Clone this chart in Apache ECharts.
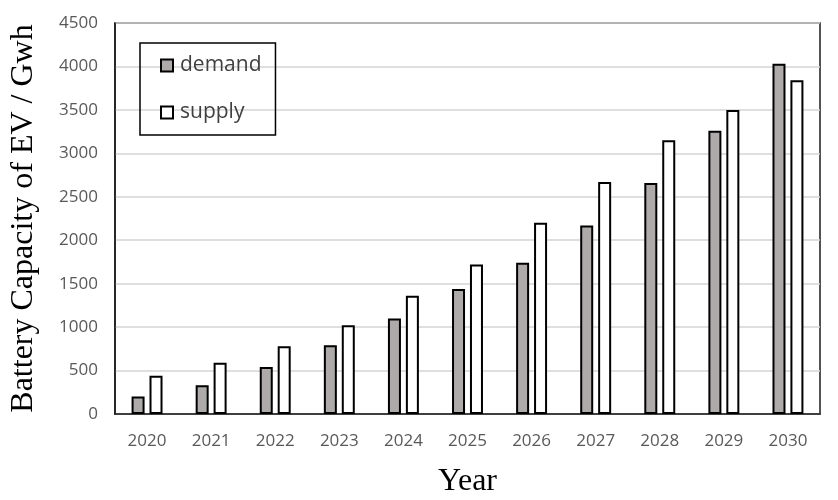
<!DOCTYPE html>
<html><head><meta charset="utf-8">
<script src="https://cdn.jsdelivr.net/npm/echarts@6/dist/echarts.min.js"></script>
<style>html,body{margin:0;padding:0;background:#fff}#c{width:838px;height:500px}</style>
</head><body><div id="c"></div>
<script>
var years = ['2020','2021','2022','2023','2024','2025','2026','2027','2028','2029','2030'];
var demand = [200, 330, 540, 790, 1100, 1440, 1740, 2170, 2660, 3260, 4030];
var supply = [440, 590, 780, 1020, 1360, 1720, 2200, 2670, 3150, 3500, 3840];
var yTicks = [0, 500, 1000, 1500, 2000, 2500, 3000, 3500, 4000, 4500];

var chart = echarts.init(document.getElementById('c'));
chart.setOption({
  animation: false,
  backgroundColor: '#fff',
  grid: { left: 115, right: 18, top: 23, bottom: 86, containLabel: false, outerBoundsMode: 'none',
    show: true, borderColor: '#1a1a1a', borderWidth: 1.5, backgroundColor: 'transparent' },
  legend: {
    left: 140, top: 43, orient: 'vertical', itemGap: 26,
    padding: [12, 14, 12, 20],
    borderColor: '#000', borderWidth: 1.5,
    itemWidth: 12, itemHeight: 12,
    icon: 'rect',
    textStyle: { fontFamily: 'Open Sans', fontSize: 21, color: '#404040', padding: [0, 0, 0, 2] },
    data: ['demand', 'supply']
  },
  xAxis: {
    type: 'category', data: years,
    axisLine: { show: true, lineStyle: { color: '#1a1a1a', width: 1.5 } },
    axisTick: { show: false },
    axisLabel: { fontFamily: 'Open Sans', fontSize: 17, color: '#595959', margin: 19 },
    name: 'Year', nameLocation: 'middle', nameGap: 52, nameMoveOverlap: false,
    nameTextStyle: { fontFamily: 'Liberation Serif', fontSize: 32, color: '#000' }
  },
  yAxis: {
    type: 'value', min: 0, max: 4500, interval: 500,
    axisLine: { show: true, lineStyle: { color: '#1a1a1a', width: 1.5 } },
    axisTick: { show: false },
    splitLine: { lineStyle: { color: '#d4d4d4', width: 1.5 } },
    axisLabel: { fontFamily: 'Open Sans', fontSize: 17, color: '#595959', margin: 17,
      formatter: function (v) { return yTicks.indexOf(v) >= 0 ? String(v) : ''; } },
    name: 'Battery Capacity of EV / Gwh', nameLocation: 'middle', nameGap: 75, nameMoveOverlap: false,
    nameTextStyle: { fontFamily: 'Liberation Serif', fontSize: 32, color: '#000' }
  },
  series: [
    { name: 'demand', type: 'bar', data: demand, barWidth: 13, barGap: '38%',
      itemStyle: { color: '#aeaaaa', borderColor: '#000', borderWidth: 2 } },
    { name: 'supply', type: 'bar', data: supply, barWidth: 13,
      itemStyle: { color: '#ffffff', borderColor: '#000', borderWidth: 2 } }
  ]
});
</script></body></html>
